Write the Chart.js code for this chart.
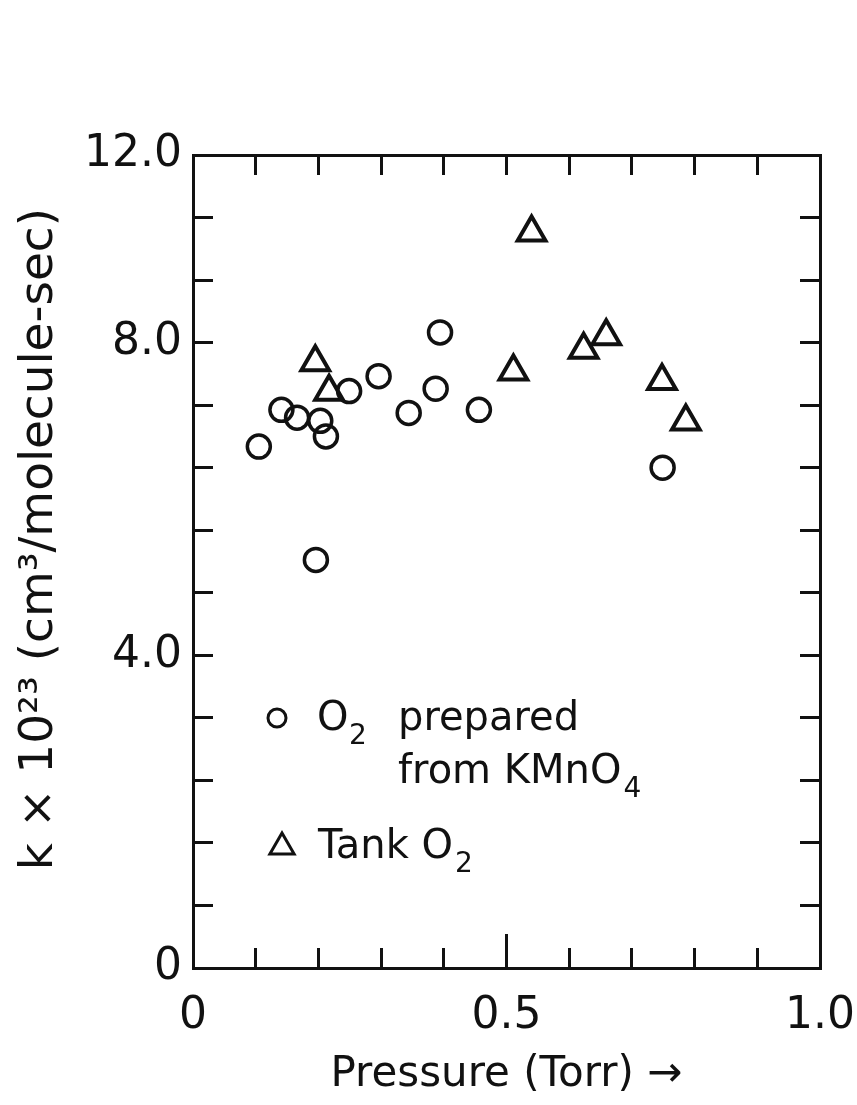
<!DOCTYPE html>
<html>
<head>
<meta charset="utf-8">
<title>k vs Pressure</title>
<script src="https://cdn.jsdelivr.net/npm/chart.js@4.4.1/dist/chart.umd.min.js"></script>
<style>
  html, body { margin: 0; padding: 0; background: #fff; }
  #wrap { width: 857px; height: 1105px; }
</style>
</head>
<body>
<div id="wrap"><canvas id="c" width="857" height="1105"></canvas></div>
<script>
// O2 prepared from KMnO4 (circles)
const circleX = [0.105, 0.141, 0.166, 0.203, 0.212, 0.196, 0.249, 0.296, 0.344, 0.387, 0.394, 0.456, 0.749];
const circleY = [6.67, 7.14, 7.04, 7.00, 6.80, 5.22, 7.38, 7.57, 7.10, 7.41, 8.13, 7.14, 6.40];

// Tank O2 (triangles)
const triX = [0.195, 0.217, 0.511, 0.540, 0.623, 0.659, 0.748, 0.786];
const triY = [7.75, 7.37, 7.63, 9.41, 7.91, 8.08, 7.51, 6.99];

// axis ticks as drawn in the figure
const xTicks = [0, 0.1, 0.2, 0.3, 0.4, 0.5, 0.6, 0.7, 0.8, 0.9, 1.0];
const xMajorTicks = [0.5];
const xLabelValues = [0, 0.5, 1.0];
const xLabelTexts = ['0', '0.5', '1.0'];
const yTicks = [0, 0.8, 1.6, 2.4, 3.2, 4.0, 4.8, 5.6, 6.4, 7.2, 8.0, 8.8, 9.6, 10.4];
const yLabelValues = [0, 4.0, 8.0, 10.4];
const yLabelTexts = ['0', '4.0', '8.0', '12.0'];

const FONT = 'DejaVu Sans';
const INK = '#111';

const toPoints = (xs, ys) => xs.map((x, i) => ({ x: x, y: ys[i] }));
const labelFor = (vals, texts) => (v) => {
  const i = vals.findIndex(t => Math.abs(t - v) < 1e-6);
  return i >= 0 ? texts[i] : '';
};
const setTicks = (vals) => (scale) => { scale.ticks = vals.map(v => ({ value: v })); };

const frameGrid = { drawOnChartArea: false, drawTicks: true, tickLength: -20, lineWidth: 3, color: INK };
const frameBorder = { display: true, width: 3, color: INK };

// the middle bottom tick is drawn a bit longer in the original
const majorTicks = {
  id: 'majorTicks',
  afterDraw(chart) {
    const ctx = chart.ctx;
    const xs = chart.scales.x;
    const bottom = chart.chartArea.bottom;
    ctx.save();
    ctx.strokeStyle = INK;
    ctx.lineWidth = 3;
    xMajorTicks.forEach(v => {
      const px = xs.getPixelForValue(v);
      ctx.beginPath();
      ctx.moveTo(px, bottom);
      ctx.lineTo(px, bottom - 34);
      ctx.stroke();
    });
    ctx.restore();
  }
};

// legend drawn inside the plot, like the original
const insideLegend = {
  id: 'insideLegend',
  afterDatasetsDraw(chart) {
    const ctx = chart.ctx;
    const a = chart.chartArea;
    const lx = a.left, ty = a.top;
    ctx.save();
    ctx.strokeStyle = INK;
    ctx.fillStyle = INK;
    ctx.lineWidth = 3;
    // circle marker
    ctx.beginPath();
    ctx.arc(lx + 84, ty + 563, 9, 0, Math.PI * 2);
    ctx.stroke();
    // triangle marker
    const cx = lx + 89, cy = ty + 692, r = 14;
    ctx.beginPath();
    ctx.moveTo(cx, cy - r);
    ctx.lineTo(cx + r * 0.866, cy + r * 0.5);
    ctx.lineTo(cx - r * 0.866, cy + r * 0.5);
    ctx.closePath();
    ctx.stroke();

    ctx.textBaseline = 'alphabetic';
    ctx.textAlign = 'left';
    const big = '40px ' + FONT, sub = '28px ' + FONT;
    // line 1
    ctx.font = big;
    ctx.fillText('O', lx + 124, ty + 575);
    ctx.font = sub;
    ctx.fillText('2', lx + 156, ty + 589);
    ctx.font = big;
    ctx.fillText('prepared', lx + 205, ty + 575);
    // line 2
    ctx.fillText('from KMnO', lx + 205, ty + 628);
    let w = ctx.measureText('from KMnO').width;
    ctx.font = sub;
    ctx.fillText('4', lx + 207 + w, ty + 642);
    // line 3
    ctx.font = big;
    ctx.fillText('Tank O', lx + 125, ty + 703);
    w = ctx.measureText('Tank O').width;
    ctx.font = sub;
    ctx.fillText('2', lx + 127 + w, ty + 717);
    ctx.restore();
  }
};

new Chart(document.getElementById('c'), {
  type: 'scatter',
  data: {
    datasets: [
      {
        label: 'O2 prepared from KMnO4',
        data: toPoints(circleX, circleY),
        pointStyle: 'circle',
        pointRadius: 11.5,
        borderWidth: 3.5,
        borderColor: INK,
        backgroundColor: 'rgba(0,0,0,0)'
      },
      {
        label: 'Tank O2',
        data: toPoints(triX, triY),
        pointStyle: 'triangle',
        pointRadius: 16,
        borderWidth: 4,
        borderColor: INK,
        backgroundColor: 'rgba(0,0,0,0)'
      }
    ]
  },
  options: {
    responsive: false,
    animation: false,
    devicePixelRatio: 1,
    events: [],
    layout: { padding: { top: 155, right: 37, left: 0, bottom: 0 } },
    plugins: {
      legend: { display: false },
      tooltip: { enabled: false }
    },
    scales: {
      x: {
        type: 'linear',
        position: 'bottom',
        min: 0,
        max: 1.0,
        afterBuildTicks: setTicks(xTicks),
        afterFit: (s) => { s.height = 137; s.paddingLeft = 0; s.paddingRight = 0; },
        grid: frameGrid,
        border: frameBorder,
        ticks: {
          autoSkip: false,
          maxRotation: 0,
          padding: 42,
          color: INK,
          font: { family: FONT, size: 44 },
          callback: labelFor(xLabelValues, xLabelTexts)
        },
        title: {
          display: true,
          text: 'Pressure (Torr) \u2192',
          color: INK,
          font: { family: FONT, size: 42 },
          padding: { top: 0, bottom: 5 }
        }
      },
      x2: {
        type: 'linear',
        position: 'top',
        min: 0,
        max: 1.0,
        afterBuildTicks: setTicks(xTicks),
        afterFit: (s) => { s.height = 0; s.paddingLeft = 0; s.paddingRight = 0; },
        grid: frameGrid,
        border: frameBorder,
        ticks: { display: false }
      },
      y: {
        type: 'linear',
        position: 'left',
        min: 0,
        max: 10.4,
        afterBuildTicks: setTicks(yTicks),
        afterFit: (s) => { s.width = 193; s.paddingTop = 0; s.paddingBottom = 0; },
        grid: frameGrid,
        border: frameBorder,
        ticks: {
          autoSkip: false,
          padding: 31,
          color: INK,
          font: { family: FONT, size: 44 },
          callback: labelFor(yLabelValues, yLabelTexts)
        },
        title: {
          display: true,
          text: '   k \u00d7 10\u00b2\u00b3 (cm\u00b3/molecule-sec)',
          color: INK,
          font: { family: FONT, size: 47 },
          padding: { top: 12, bottom: 0 }
        }
      },
      y2: {
        type: 'linear',
        position: 'right',
        min: 0,
        max: 10.4,
        afterBuildTicks: setTicks(yTicks),
        afterFit: (s) => { s.width = 0; s.paddingTop = 0; s.paddingBottom = 0; },
        grid: frameGrid,
        border: frameBorder,
        ticks: { display: false }
      }
    }
  },
  plugins: [insideLegend, majorTicks]
});
</script>
</body>
</html>
